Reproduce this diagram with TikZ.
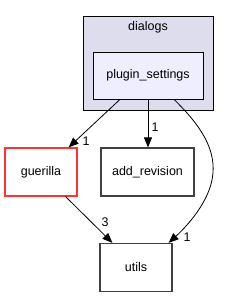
\documentclass[tikz,border=0pt]{standalone}
\usepackage{fontspec}
\setmainfont{Liberation Sans}
\usetikzlibrary{arrows.meta,calc}
\definecolor{clusterfill}{HTML}{DDDDEE}
\definecolor{pkgfill}{HTML}{EEEEFF}
\definecolor{boxline}{HTML}{404040}
\definecolor{redline}{HTML}{FF3333}
\begin{document}
\begin{tikzpicture}[x=1pt,y=-1pt,
  every node/.style={font=\fontsize{12.5}{14}\selectfont, inner sep=0pt},
  dirbox/.style={draw=boxline, line width=1.2pt, fill=white, rectangle, minimum height=48pt},
  dep/.style={draw=black, line width=0.8pt, -{Triangle[length=10pt,width=8pt]}},
  cnt/.style={font=\fontsize{12.5}{14}\selectfont}]
\useasboundingbox (0,0) rectangle (229,297);
\node[draw=black, line width=0.8pt, fill=clusterfill, minimum width=130pt, minimum height=94pt] (cl) at (148,63) {};
\node (cltitle) at (148,27) {dialogs};
\node[draw=black, line width=0.8pt, fill=pkgfill, minimum width=110pt, minimum height=47pt] (ps) at (148,75.5) {plugin\_settings};
\node[dirbox, draw=redline, minimum width=72pt] (gu) at (41,172) {guerilla};
\node[dirbox, minimum width=93pt] (ar) at (147.5,172) {add\_revision};
\node[dirbox, minimum width=72pt] (ut) at (136,267.5) {utils};
\coordinate (a1) at ($(ps.south)+(-28,0)$);
\coordinate (a3) at ($(ps.south)+(26,0)$);
\draw[dep] (a1) -- ($(gu.north east)+(-9,0)$);
\node[cnt] at (86,141) {1};
\draw[dep] (ps.south) -- (ar.north -| ps.south);
\node[cnt] at (155,127) {1};
\draw[dep] (a3) .. controls (200,125) and (218,150) .. (212,180) .. controls (207,205) and (185,228) .. ($(ut.north east)+(-4,0)$);
\node[cnt] at (187,237) {1};
\draw[dep] ($(gu.south east)+(-12,0)$) -- ($(ut.north west)+(13,0)$);
\node[cnt] at (105,222) {3};
\end{tikzpicture}
\end{document}
